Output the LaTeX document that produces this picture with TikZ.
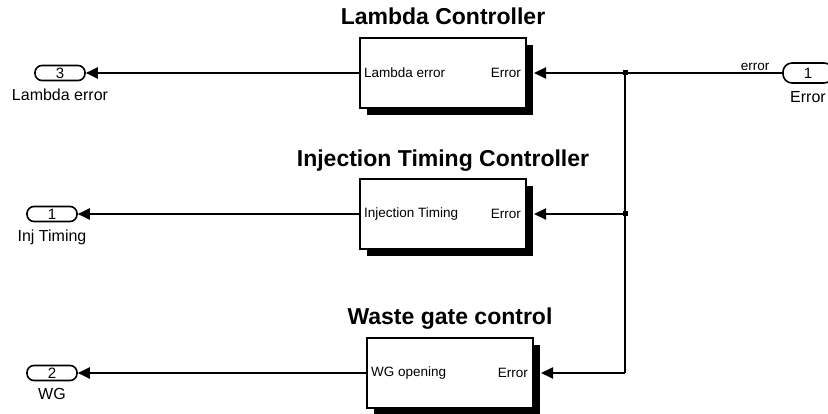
\documentclass[tikz,border=0pt]{standalone}
\usepackage{fontspec}
\setmainfont{Liberation Sans}
\usetikzlibrary{arrows.meta,shadows}

\begin{document}
\begin{tikzpicture}[x=1pt,y=-1pt]
\tikzstyle{every node}+=[inner sep=0pt]
\tikzstyle{block}=[draw, line width=2pt, fill=white, minimum width=166pt, minimum height=70pt, drop shadow={shadow xshift=7pt, shadow yshift=-7pt, fill=black, opacity=1}]
\tikzstyle{port}=[font=\fontsize{13.5}{16}\selectfont]
\tikzstyle{title}=[font=\fontsize{23}{27}\selectfont\bfseries, anchor=base]
\tikzstyle{outport}=[draw, line width=1.6pt, rounded corners=7pt, minimum width=50pt, minimum height=15pt, font=\fontsize{15}{17}\selectfont]
\tikzstyle{portlabel}=[font=\fontsize{16}{18}\selectfont, anchor=north]
\tikzstyle{wire}=[line width=2pt]
\tikzstyle{sig}=[wire, -{Triangle[length=12pt,width=11pt]}]
\tikzstyle{dot}=[fill, minimum size=5pt]
\useasboundingbox (0,0) rectangle (828,414);
\node[block] (lam) at (443,73) {};
\node[block] (inj) at (443,214) {};
\node[block] (wg) at (450,373) {};
\node[title] (lamtitle) at ([yshift=12pt]lam.north) {Lambda Controller};
\node[title] (injtitle) at ([yshift=11pt]inj.north) {Injection Timing Controller};
\node[title] (wgtitle) at ([yshift=13pt]wg.north) {Waste gate control};
\node[port, anchor=west] (lamout) at ([xshift=5pt]lam.west) {Lambda error};
\node[port, anchor=east] (lamerr) at ([xshift=-6pt]lam.east) {Error};
\node[port, anchor=west] (injout) at ([xshift=5pt]inj.west) {Injection Timing};
\node[port, anchor=east] (injerr) at ([xshift=-6pt]inj.east) {Error};
\node[port, anchor=west] (wgout) at ([xshift=5pt]wg.west) {WG opening};
\node[port, anchor=east] (wgerr) at ([xshift=-6pt]wg.east) {Error};
\node[outport] (out3) at (60,73) {3};
\node[portlabel] (out3lbl) at ([yshift=-7pt]out3.south) {Lambda error};
\node[outport] (out1) at (52,214) {1};
\node[portlabel] (out1lbl) at ([yshift=-7pt]out1.south) {Inj Timing};
\node[outport] (out2) at (52,373) {2};
\node[portlabel] (out2lbl) at ([yshift=-7pt]out2.south) {WG};
\node[outport, rounded corners=9pt, minimum height=20pt] (inp) at (808,73) {1};
\node[portlabel] (inplbl) at ([yshift=-7pt]inp.south) {Error};
\node[dot] (ja) at (625,73) {};
\node[dot] (jb) at (625,214) {};
\coordinate (jc) at (625,373);
\node[port, anchor=south] (errsig) at (755,71) {error};
\draw[wire] (inp.west) -- (ja.center);
\draw[sig] (ja.center) -- ([xshift=7pt]lam.east);
\draw[sig] (jb.center) -- ([xshift=7pt]inj.east);
\draw[wire] (ja.center) -- (jb.center) -- (jc);
\draw[sig] (jc) -- ([xshift=7pt]wg.east);
\draw[sig] (lam.west) -- (out3.east);
\draw[sig] (inj.west) -- (out1.east);
\draw[sig] (wg.west) -- (out2.east);
\end{tikzpicture}
\end{document}
